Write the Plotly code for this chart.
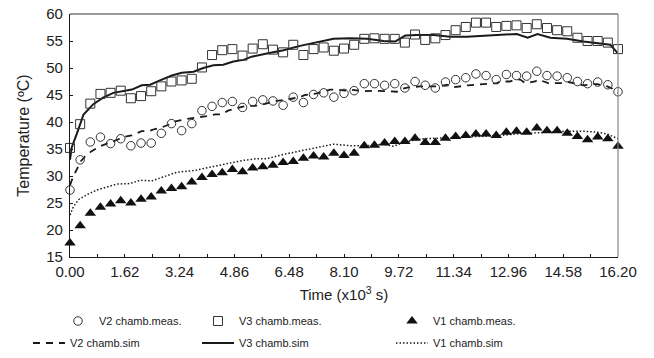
import plotly.graph_objects as go

# ---------------- data ----------------
t_meas = [0.0, 0.3, 0.6, 0.9, 1.2, 1.5, 1.8, 2.1, 2.4, 2.7, 3.0, 3.3, 3.6, 3.9, 4.2, 4.5, 4.8, 5.1, 5.4, 5.7,
          6.0, 6.3, 6.6, 6.9, 7.2, 7.5, 7.8, 8.1, 8.4, 8.7, 9.0, 9.3, 9.6, 9.9, 10.2, 10.5, 10.8, 11.1, 11.4, 11.7,
          12.0, 12.3, 12.6, 12.9, 13.2, 13.5, 13.8, 14.1, 14.4, 14.7, 15.0, 15.3, 15.6, 15.9, 16.2]

v2_meas = [27.4, 33.0, 36.3, 37.2, 36.0, 36.9, 35.6, 36.1, 36.1, 37.9,
           39.7, 38.4, 39.7, 42.1, 42.9, 43.6, 43.8, 42.7, 43.8, 44.1,
           43.9, 43.1, 44.6, 43.6, 45.1, 45.4, 44.6, 45.3, 45.8, 47.1,
           47.1, 46.8, 47.1, 46.3, 47.5, 46.8, 46.3, 47.4, 47.85, 48.2,
           48.9, 48.6, 47.85, 48.8, 48.6, 48.5, 49.4, 48.6, 48.5, 48.2,
           47.5, 47.1, 47.4, 46.9, 45.6]

v3_meas = [35.2, 39.6, 43.4, 45.2, 45.4, 45.8, 44.4, 44.8, 45.7, 46.6,
           47.5, 47.7, 48.0, 50.1, 52.4, 53.3, 53.5, 52.3, 53.6, 54.4,
           53.4, 52.9, 54.3, 52.4, 53.5, 53.8, 53.2, 53.6, 54.3, 55.4,
           55.5, 55.4, 55.4, 54.7, 56.2, 55.2, 55.5, 56.1, 57.0, 57.6,
           58.4, 58.4, 57.6, 57.8, 57.9, 57.4, 58.1, 57.4, 57.0, 56.8,
           55.6, 55.0, 55.0, 54.7, 53.5]

v1_meas = [17.6, 20.8, 23.1, 24.2, 24.8, 25.4, 25.0, 25.7, 26.1, 27.2,
           27.7, 28.0, 28.9, 29.7, 30.3, 30.6, 31.2, 30.8, 31.5, 31.7,
           32.0, 32.5, 32.7, 33.3, 33.7, 33.5, 34.2, 33.8, 34.2, 35.6,
           35.7, 36.1, 36.4, 36.4, 37.0, 36.2, 36.2, 37.0, 37.3, 37.5,
           37.8, 37.8, 37.5, 38.1, 38.3, 38.1, 38.9, 38.4, 38.4, 37.9,
           37.3, 36.7, 37.2, 36.9, 35.5]

t_v2_sim = [0, 0.1, 0.2, 0.3, 0.44, 0.64, 0.89, 1.08, 1.35, 1.63, 1.82, 2.12, 2.32, 2.51, 2.71, 2.96, 3.11,
            3.40, 3.60, 3.84, 4.04, 4.29, 4.49, 4.67, 4.82, 5.08, 5.23, 5.47, 5.67, 5.92, 6.11, 6.45, 6.80,
            6.95, 7.30, 7.44, 7.69, 7.89, 8.13, 8.28, 8.70, 9.02, 9.22, 9.46, 9.66, 9.85, 10.0, 10.35, 10.55,
            10.79, 10.94, 11.14, 11.3, 11.77, 11.98, 12.18, 12.37, 12.62, 12.72, 13.0, 13.16, 13.31, 13.46,
            13.75, 13.84, 14.14, 14.29, 14.58, 14.73, 15.03, 15.17, 15.44, 15.59, 15.88, 16.03, 16.12, 16.2]
v2_sim = [28.3, 30.0, 31.2, 32.6, 33.6, 34.6, 35.5, 35.9, 36.6, 37.3, 37.5, 38.3, 38.3, 38.7, 39.0, 39.6, 40.1,
          40.5, 40.7, 40.8, 41.1, 41.4, 41.4, 42.1, 42.4, 42.8, 43.0, 43.0, 43.2, 43.6, 43.9, 44.2, 44.6,
          45.0, 45.3, 45.6, 46.0, 46.0, 45.8, 46.0, 45.7, 45.8, 45.7, 45.6, 45.6, 46.2, 46.4, 46.6, 46.6,
          46.6, 46.6, 46.9, 46.4, 46.8, 46.9, 46.9, 47.1, 47.2, 47.5, 47.5, 47.85, 47.85, 47.2,
          47.5, 47.85, 47.2, 47.2, 47.2, 47.4, 46.9, 46.8, 47.0, 47.0, 46.6, 46.2, 45.7, 45.4]

t_v3_sim = [0, 0.05, 0.2, 0.4, 0.69, 0.98, 1.28, 1.58, 1.83, 2.12, 2.37, 2.66, 3.01, 3.30, 3.65, 3.94, 4.24,
            4.53, 4.83, 5.13, 5.37, 5.82, 6.31, 6.80, 7.30, 7.79, 8.28, 8.78, 9.27, 9.61, 9.91, 10.25, 10.75,
            11.24, 11.73, 12.22, 12.72, 13.21, 13.53, 13.82, 14.20, 14.69, 15.18, 15.68, 15.97, 16.2]
v3_sim = [33.0, 35.3, 37.8, 41.4, 43.3, 44.5, 45.4, 45.8, 46.0, 46.8, 46.9, 47.7, 48.6, 49.1, 49.3, 50.0, 50.5,
          50.6, 51.2, 51.5, 52.1, 52.7, 53.3, 54.1, 54.7, 55.4, 55.5, 55.4, 55.0, 54.9, 56.0, 56.1, 56.1,
          55.8, 55.8, 56.0, 56.1, 56.3, 55.6, 56.3, 55.6, 55.4, 54.9, 54.6, 54.3, 52.7]

t_v1_sim = [0, 0.10, 0.25, 0.49, 0.79, 1.09, 1.38, 1.77, 2.07, 2.42, 2.76, 3.16, 3.65, 4.14, 4.63, 5.13, 5.52,
            5.82, 6.31, 6.80, 7.30, 7.79, 8.28, 8.78, 9.27, 9.56, 9.96, 10.45, 11.04, 11.73, 12.22, 12.72,
            13.21, 13.7, 14.20, 14.69, 15.18, 15.58, 15.87, 16.2]
v1_sim = [22.8, 24.3, 25.6, 26.5, 27.4, 28.0, 28.5, 28.6, 29.2, 29.1, 29.8, 30.7, 31.0, 31.6, 32.3, 32.9, 33.2,
          33.2, 34.0, 34.6, 35.3, 35.9, 35.6, 35.6, 35.9, 35.5, 36.4, 36.9, 37.05, 37.2, 37.3, 37.5,
          37.8, 38.0, 38.1, 38.3, 38.3, 38.1, 37.8, 36.9]

x_tickvals = [0.0, 0.81, 1.62, 2.43, 3.24, 4.05, 4.86, 5.67, 6.48, 7.29, 8.10, 8.91, 9.72, 10.53, 11.34,
              12.15, 12.96, 13.77, 14.58, 15.39, 16.20]
x_ticktext = ["0.00", "", "1.62", "", "3.24", "", "4.86", "", "6.48", "", "8.10", "", "9.72", "", "11.34",
              "", "12.96", "", "14.58", "", "16.20"]

names = ["V2 chamb.meas.", "V3 chamb.meas.", "V1 chamb.meas.",
         "V2 chamb.sim", "V3 chamb.sim", "V1 chamb.sim"]

# ---------------- figure ----------------
INK = "#1a1a1a"
FONT = "Liberation Sans, Arial, sans-serif"

fig = go.Figure()

fig.add_trace(go.Scatter(x=t_v1_sim, y=v1_sim, mode="lines", name=names[5], legend="legend6",
                         line=dict(color=INK, width=1.5, dash="1.5px,2px"), cliponaxis=False))
fig.add_trace(go.Scatter(x=t_v2_sim, y=v2_sim, mode="lines", name=names[3], legend="legend4",
                         line=dict(color=INK, width=1.8, dash="7px,6px"), cliponaxis=False))
fig.add_trace(go.Scatter(x=t_v3_sim, y=v3_sim, mode="lines", name=names[4], legend="legend5",
                         line=dict(color=INK, width=2), cliponaxis=False))

fig.add_trace(go.Scatter(x=t_meas, y=v2_meas, mode="markers", name=names[0], legend="legend",
                         marker=dict(symbol="circle-open", size=8.5, color="#333333", line=dict(width=1)),
                         cliponaxis=False))
fig.add_trace(go.Scatter(x=t_meas, y=v3_meas, mode="markers", name=names[1], legend="legend2",
                         marker=dict(symbol="square-open", size=9, color="#333333", line=dict(width=1)),
                         cliponaxis=False))
fig.add_trace(go.Scatter(x=t_meas, y=v1_meas, mode="markers", name=names[2], legend="legend3",
                         marker=dict(symbol="triangle-up", size=10, color="#111111",
                                     line=dict(width=0)), cliponaxis=False))

# plot area in figure pixels (page body adds an 8px offset)
L, T, PW, PH = 62, 6, 548.0, 243.0
def lx(px):  # px relative to the plot's left edge
    return px / PW
def ly(py):  # py relative to the plot's bottom edge (positive = below)
    return -py / PH

leg_common = dict(bgcolor="rgba(0,0,0,0)", font=dict(family=FONT, size=11, color="#222"),
                  xanchor="left", yanchor="middle", orientation="v", itemwidth=32)

layout_legends = {
    "legend": dict(x=lx(-13), y=ly(64), **leg_common),
    "legend2": dict(x=lx(127), y=ly(64), **leg_common),
    "legend3": dict(x=lx(321), y=ly(64), **leg_common),
    "legend4": dict(x=lx(-42), y=ly(86), **leg_common),
    "legend5": dict(x=lx(127), y=ly(86), **leg_common),
    "legend6": dict(x=lx(321), y=ly(86), **leg_common),
}

fig.update_layout(
    width=646, height=350,
    margin=dict(l=L, r=36, t=T, b=101, autoexpand=False),
    paper_bgcolor="white", plot_bgcolor="white",
    font=dict(family=FONT, size=15, color="#222"),
    showlegend=True,
    **layout_legends,
)

fig.update_xaxes(
    range=[0, 16.2], tickmode="array", tickvals=x_tickvals, ticktext=x_ticktext,
    ticks="inside", ticklen=3, tickwidth=1, tickcolor=INK,
    showline=True, linecolor=INK, linewidth=1.2, showgrid=False, zeroline=False,
    tickfont=dict(size=15, family=FONT, color="#222"), ticklabelstandoff=1,
    title=dict(text="Time (x10<sup>3</sup> s)", font=dict(size=15, family=FONT, color="#222"), standoff=10),
    automargin=False,
)
fig.update_yaxes(
    range=[15, 60], tickmode="linear", tick0=15, dtick=5,
    ticks="inside", ticklen=3, tickwidth=1, tickcolor=INK,
    showline=True, linecolor=INK, linewidth=1.2, showgrid=False, zeroline=False,
    tickfont=dict(size=15, family=FONT, color="#222"), ticklabelstandoff=3,
    ticklabeloverflow="allow",
    title=dict(text="Temperature (ºC)", font=dict(size=16, family=FONT, color="#222"), standoff=12),
    automargin=False,
)

# top and right frame of the plot area
fig.add_shape(type="line", xref="paper", yref="paper", x0=0, x1=1, y0=1, y1=1,
              line=dict(color="#333333", width=1))
fig.add_shape(type="line", xref="paper", yref="paper", x0=1, x1=1, y0=0, y1=1,
              line=dict(color="#888888", width=1.2))

fig.write_html("out.html")
